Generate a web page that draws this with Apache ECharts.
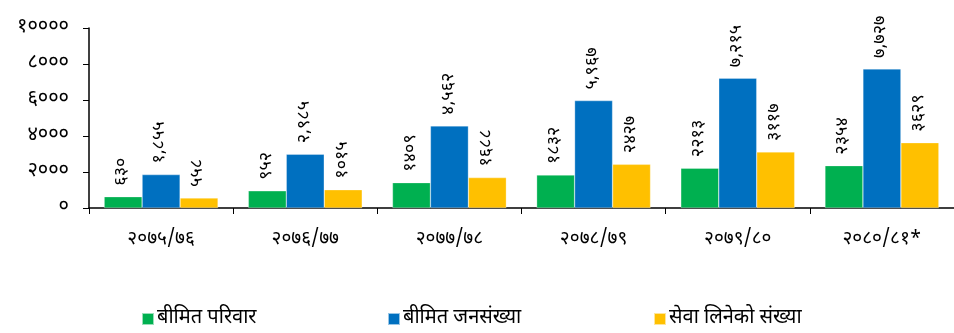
<!DOCTYPE html>
<html>
<head>
<meta charset="utf-8">
<script src="https://cdn.jsdelivr.net/npm/echarts@6/dist/echarts.min.js"></script>
<style>
  html, body { margin: 0; padding: 0; background: #fff; }
  #chart { width: 954px; height: 333px; }
</style>
</head>
<body>
<div id="chart"></div>
<script>
// आर्थिक वर्ष
var categories = ['२०७५/७६', '२०७६/७७', '२०७७/७८', '२०७८/७९', '२०७९/८०', '२०८०/८१*'];
var seriesNames = ['बीमित परिवार', 'बीमित जनसंख्या', 'सेवा लिनेको संख्या'];
var familyData = [630, 952, 1409, 1832, 2213, 2354];
var populationData = [1855, 2985, 4562, 5967, 7215, 7727];
var serviceData = [558, 1015, 1688, 2427, 3117, 3629];
var yTicks = [0, 2000, 4000, 6000, 8000, 10000];

var colors = ['#00B050', '#0070C0', '#FFC000'];
var legendLeft = [136, 382, 648];
var devDigits = '०१२३४५६७८९';
var fontFam = '"Noto Sans Devanagari", "Lohit Devanagari", "Mukta", "Noto Sans", sans-serif';

function toDev(n, comma) {
  var s = String(n);
  if (comma) s = s.replace(/\B(?=(\d{3})+(?!\d))/g, ',');
  return s.replace(/[0-9]/g, function (d) { return devDigits[+d]; });
}

function makeSeries(idx, data, comma) {
  return {
    name: seriesNames[idx],
    type: 'bar',
    data: data,
    barGap: '0%',
    barCategoryGap: '21%',
    itemStyle: { color: colors[idx], borderColor: 'rgba(255,255,255,0.6)', borderWidth: 0.5 },
    label: {
      show: true,
      position: 'top',
      rotate: 90,
      align: 'left',
      verticalAlign: 'middle',
      distance: 11,
      fontSize: 18,
      fontFamily: fontFam,
      color: '#000',
      formatter: function (p) { return toDev(p.value, comma); }
    }
  };
}

var legends = seriesNames.map(function (name, i) {
  return {
    bottom: -1,
    left: legendLeft[i],
    itemWidth: 12,
    itemHeight: 12,
    itemGap: 4,
    icon: 'rect',
    data: [name],
    textStyle: { fontSize: 20, fontFamily: fontFam, color: '#000', padding: [0, 0, 0, -2] }
  };
});

var myChart = echarts.init(document.getElementById('chart'));
myChart.setOption({
  animation: false,
  grid: { left: 89, right: 0, top: 28, bottom: 125 },
  legend: legends,
  xAxis: {
    type: 'category',
    data: categories,
    axisLine: { lineStyle: { color: '#000', width: 1.5 } },
    axisTick: { show: true, length: 6, lineStyle: { color: '#000' } },
    axisLabel: { margin: 23, fontSize: 19, fontFamily: fontFam, color: '#000' }
  },
  yAxis: {
    type: 'value',
    min: 0,
    max: 10000,
    interval: 2000,
    splitLine: { show: false },
    axisLine: { show: true, lineStyle: { color: '#000', width: 1.5 } },
    axisTick: { show: true, length: 6, lineStyle: { color: '#000' } },
    axisLabel: {
      margin: 20, fontSize: 20, fontFamily: fontFam, color: '#000',
      formatter: function (v) { return yTicks.indexOf(v) >= 0 ? toDev(v, false) : ''; }
    }
  },
  series: [
    makeSeries(0, familyData, false),
    makeSeries(1, populationData, true),
    makeSeries(2, serviceData, false)
  ]
});
</script>
</body>
</html>
